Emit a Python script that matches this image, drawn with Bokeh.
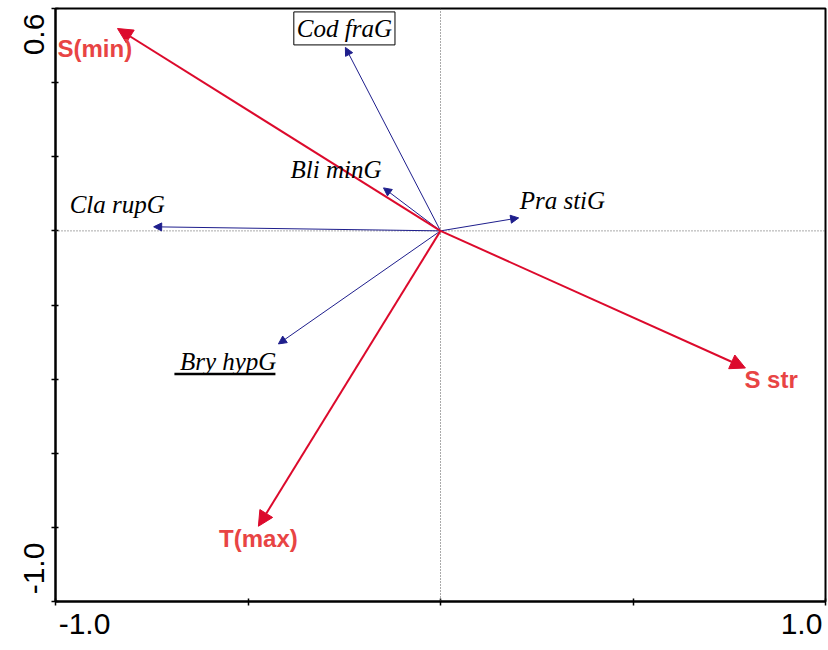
import math
from bokeh.plotting import figure
from bokeh.models import (Range1d, FixedTicker, Span, Arrow, NormalHead, ColumnDataSource, Label,
                          LinearAxis, CustomJSTickFormatter)
from bokeh.embed import file_html
from bokeh.resources import INLINE

# ---------------- data ----------------
env_names = ["S(min)", "S str", "T(max)"]
env_x = [-0.839, 0.792, -0.473]
env_y = [0.546, -0.370, -0.797]

species_names = ["Cod fraG", "Bli minG", "Pra stiG", "Cla rupG", "Bry hypG"]
species_x = [-0.247, -0.148, 0.203, -0.745, -0.421]
species_y = [0.495, 0.116, 0.035, 0.011, -0.305]

x_ticks = [-1.0, -0.5, 0.0, 0.5, 1.0]
y_ticks = [0.6, 0.4, 0.2, 0.0, -0.2, -0.4, -0.6, -0.8, -1.0]
x_tick_label_vals = [-1.0, 1.0]
x_tick_labels = ["-1.0", "1.0"]
y_tick_label_vals = [0.6, -1.0]
y_tick_labels = ["0.6", "-1.0"]

# ---------------- layout ----------------
X_RANGE = (-1.0, 1.0)
Y_RANGE = (-1.0, 0.6)
W, H = 828, 650
BL, BR, BT, BB = 55, 3, 8, 49
FW = W - BL - BR
FH = H - BT - BB
PX = FW / (X_RANGE[1] - X_RANGE[0])
PY = FH / (Y_RANGE[1] - Y_RANGE[0])


def ox(px):
    return px / PX


def oy(px):  # px measured downward on screen
    return -px / PY


RED_LINE = "#dc0a2c"
RED_TEXT = "#e84444"
BLUE = "#1e1e8c"

p = figure(width=W, height=H, x_range=Range1d(*X_RANGE), y_range=Range1d(*Y_RANGE),
           output_backend="svg", toolbar_location=None,
           min_border_left=BL, min_border_right=BR, min_border_top=BT, min_border_bottom=BB)
p.grid.visible = False
p.background_fill_color = "white"
p.border_fill_color = "white"
p.outline_line_color = "black"
p.outline_line_width = 2

for ax, ticks in ((p.xaxis, x_ticks), (p.yaxis, y_ticks)):
    ax.ticker = FixedTicker(ticks=ticks)
    ax.formatter = CustomJSTickFormatter(code="return ''")
    ax.major_label_standoff = 0
    ax.minor_tick_line_color = None
    ax.axis_line_width = 2
    ax.axis_line_color = "black"
    ax.major_tick_line_color = "black"
    ax.major_tick_line_width = 1.5
    ax.major_tick_in = 3
    ax.major_tick_out = 4

# tick-label axes (labels only at the range ends, shifted inward as in the reference)
LABEL_JS = """
for (let i = 0; i < pos.length; i++) {
    if (Math.abs(pos[i] - tick) < 1e-9) { return labels[i]; }
}
return '';
"""
x_label_pos = [v + ox(29) if v == X_RANGE[0] else v - ox(24) for v in x_tick_label_vals]
x_lab_axis = LinearAxis(ticker=FixedTicker(ticks=x_label_pos),
                        formatter=CustomJSTickFormatter(args=dict(pos=x_label_pos, labels=x_tick_labels), code=LABEL_JS),
                        axis_line_color=None, major_tick_line_color=None, minor_tick_line_color=None,
                        major_label_text_font="Liberation Sans", major_label_text_font_size="30px",
                        major_label_text_color="black", major_label_standoff=2)
p.add_layout(x_lab_axis, "below")

y_label_pos = [v + oy(26) if v == Y_RANGE[1] else v + oy(-33) for v in y_tick_label_vals]
y_lab_axis = LinearAxis(ticker=FixedTicker(ticks=y_label_pos),
                        formatter=CustomJSTickFormatter(args=dict(pos=y_label_pos, labels=y_tick_labels), code=LABEL_JS),
                        axis_line_color=None, major_tick_line_color=None, minor_tick_line_color=None,
                        major_label_text_font="Liberation Sans", major_label_text_font_size="30px",
                        major_label_text_color="black", major_label_standoff=2,
                        major_label_orientation="vertical")
p.add_layout(y_lab_axis, "left")

# dotted zero lines
p.add_layout(Span(location=0, dimension="height", line_color="#555555", line_dash="1 2", line_width=1))
p.add_layout(Span(location=0, dimension="width", line_color="#555555", line_dash="1 2", line_width=1))

# species arrows (thin navy)
sp_src = ColumnDataSource(dict(x0=[0.0] * len(species_x), y0=[0.0] * len(species_y), x1=species_x, y1=species_y))
p.add_layout(Arrow(end=NormalHead(size=8, fill_color=BLUE, line_color=BLUE, line_width=1),
                   x_start="x0", y_start="y0", x_end="x1", y_end="y1", source=sp_src,
                   line_color=BLUE, line_width=1))

# environmental arrows (red)
env_src = ColumnDataSource(dict(x0=[0.0] * len(env_x), y0=[0.0] * len(env_y), x1=env_x, y1=env_y))
p.add_layout(Arrow(end=NormalHead(size=15, fill_color=RED_LINE, line_color=RED_LINE, line_width=1),
                   x_start="x0", y_start="y0", x_end="x1", y_end="y1", source=env_src,
                   line_color=RED_LINE, line_width=2))

# label placement: (align, dx px, dy px downward) relative to arrow tip
env_style = {
    "S(min)": ("left", -60, 20),
    "S str": ("left", -1, 11),
    "T(max)": ("center", 0, 12),
}
sp_style = {
    "Cod fraG": ("center", -1, -19),
    "Bli minG": ("right", -2, -18),
    "Pra stiG": ("left", 1, -17),
    "Cla rupG": ("left", -84, -22),
    "Bry hypG": ("right", -2, 18),
}

for name, x, y in zip(env_names, env_x, env_y):
    al, dxp, dyp = env_style[name]
    p.add_layout(Label(x=x + ox(dxp), y=y + oy(dyp), text=name, text_align=al,
                       text_baseline="alphabetic", text_font="Liberation Sans",
                       text_font_style="bold", text_font_size="24px", text_color=RED_TEXT))

for name, x, y in zip(species_names, species_x, species_y):
    al, dxp, dyp = sp_style[name]
    kw = {}
    if name == "Cod fraG":
        kw = dict(border_line_color="black", border_line_width=1,
                  background_fill_color="white", padding=3)
    p.add_layout(Label(x=x + ox(dxp), y=y + oy(dyp), text=name, text_align=al,
                       text_baseline="alphabetic", text_font="Liberation Serif",
                       text_font_style="italic", text_font_size="25px", text_color="black", **kw))

# underline for Bry hypG
i = species_names.index("Bry hypG")
p.segment(x0=[species_x[i] + ox(-104)], y0=[species_y[i] + oy(30)],
          x1=[species_x[i] + ox(-3)], y1=[species_y[i] + oy(30)],
          line_color="black", line_width=2.5)

open("out.html", "w").write(file_html(p, INLINE))
